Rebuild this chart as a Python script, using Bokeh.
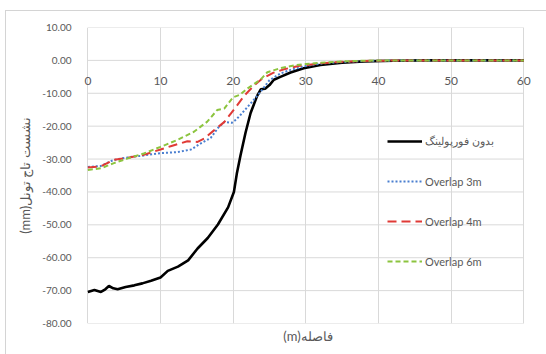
from bokeh.plotting import figure
from bokeh.models import (Legend, LegendItem, FixedTicker, NumeralTickFormatter, Title, InlineStyleSheet)
from bokeh.embed import file_html
from bokeh.resources import INLINE

# ---- data ----
x_black = [0, 0.9, 1.8, 2.4, 2.9, 3.5, 4.1, 5.2, 6.4, 7.5, 8.7, 10, 11, 12.4, 13.8, 15.1, 16.5, 17.9, 19.3, 20.1, 20.5, 21.0, 21.7, 22.4, 23.3, 23.8, 24.4, 25.0, 25.6, 26.5, 27.9, 29.7, 32, 35, 38, 42, 46, 50, 55, 60]
y_black = [-70.4, -69.8, -70.4, -69.6, -68.6, -69.3, -69.6, -68.9, -68.4, -67.8, -67.0, -66.0, -64.0, -62.7, -60.8, -57.2, -54.0, -49.9, -44.7, -40.0, -34.5, -29.0, -22.0, -16.0, -10.8, -8.8, -8.6, -7.5, -5.9, -5.0, -3.7, -2.4, -1.4, -0.7, -0.3, -0.1, 0, 0, 0, 0]

x_3m = [0, 1.8, 3.2, 4.1, 5.5, 7.7, 10, 12.3, 14.2, 15.5, 16.9, 18, 18.8, 19.8, 20.4, 21, 22.4, 23.8, 25, 26.5, 28, 30, 32, 35, 38, 42, 46, 50, 55, 60]
y_3m = [-32.4, -32.1, -30.6, -30.0, -29.5, -28.9, -28.2, -27.9, -27.1, -25.3, -23.6, -20.3, -18.7, -19.0, -18.0, -16.6, -13.1, -9.5, -6.0, -4.0, -2.8, -1.7, -1.0, -0.5, -0.2, -0.05, 0, 0, 0, 0]

x_4m = [0, 1.8, 3.6, 5.5, 7.7, 10, 11.4, 13.7, 15.1, 16, 17.4, 18.8, 19.7, 20.4, 21.5, 22.8, 24, 25.5, 27, 29, 32, 35, 38, 42, 46, 50, 55, 60]
y_4m = [-32.6, -32.2, -30.2, -29.6, -28.7, -27.1, -26.1, -24.6, -24.8, -23.8, -21.2, -18.7, -16.1, -14.1, -10.8, -7.8, -5.5, -3.8, -2.7, -1.7, -0.9, -0.4, -0.15, -0.05, 0, 0, 0, 0]

x_6m = [0, 1.8, 3.5, 5.5, 7.7, 10, 12.3, 14.6, 16.4, 17.8, 18.8, 20, 20.9, 22, 23.8, 24.7, 26.6, 28.5, 30, 32, 35, 38, 42, 46, 50, 55, 60]
y_6m = [-33.3, -32.8, -31.3, -29.8, -28.3, -26.3, -24.2, -21.7, -18.7, -15.1, -14.6, -11.2, -10.5, -8.5, -5.8, -3.6, -2.3, -1.5, -1.1, -0.7, -0.3, -0.1, 0, 0, 0, 0, 0]

x_ticks = [0, 10, 20, 30, 40, 50, 60]
y_ticks = [10, 0, -10, -20, -30, -40, -50, -60, -70, -80]

series_names = ["بدون فورپولینگ", "Overlap 3m", "Overlap 4m", "Overlap 6m"]
x_title = "(m)فاصله"
y_title = "(mm)نشست تاج تونل"

FONT = "Lato"
TXT = "#595959"
GRID = "#d9d9d9"

# small padding on the x range so the end tick labels (0 and 60) are not clipped
p = figure(width=546, height=354, x_range=(-0.6, 61.2), y_range=(-80, 10),
           output_backend="svg", toolbar_location=None,
           min_border_left=83, min_border_top=27, min_border_right=14, min_border_bottom=31)
p.outline_line_color = None
p.background_fill_color = "white"
p.border_fill_color = "white"
# thin chart-area border (top and left edges visible in the reference)
p.stylesheets = [InlineStyleSheet(css=(
    ":host { position: relative; }\n"
    ":host::after { content: ''; position: absolute; left: 5px; top: 10px; right: -20px; bottom: -20px; "
    "border-left: 1px solid #d4d4d4; border-top: 1px solid #d4d4d4; pointer-events: none; z-index: 10; }"))]

# y axis
p.yaxis.ticker = FixedTicker(ticks=y_ticks)
p.yaxis.formatter = NumeralTickFormatter(format="0.00")
p.yaxis.axis_line_color = None
p.yaxis.major_tick_line_color = None
p.yaxis.minor_tick_line_color = None
p.yaxis.major_label_text_color = TXT
p.yaxis.major_label_text_font = FONT
p.yaxis.major_label_text_font_size = "10px"
p.yaxis.major_label_standoff = 6
p.yaxis.axis_label = y_title
p.yaxis.axis_label_text_font = FONT
p.yaxis.axis_label_text_font_style = "normal"
p.yaxis.axis_label_text_font_size = "13px"
p.yaxis.axis_label_text_color = TXT
p.yaxis.axis_label_standoff = 6

# x axis drawn along y = 0 (labels below the zero line)
p.xaxis.ticker = FixedTicker(ticks=x_ticks)
p.xaxis.fixed_location = 0
p.xaxis.axis_line_color = None
p.xaxis.major_tick_line_color = None
p.xaxis.minor_tick_line_color = None
p.xaxis.major_label_text_color = TXT
p.xaxis.major_label_text_font = FONT
p.xaxis.major_label_text_font_size = "12px"
p.xaxis.major_label_standoff = 11
p.xgrid.grid_line_color = GRID
p.ygrid.grid_line_color = None

# horizontal grid lines limited to the 0..60 span
p.segment(x0=[x_ticks[0]] * len(y_ticks), x1=[x_ticks[-1]] * len(y_ticks),
          y0=y_ticks, y1=y_ticks, line_color=GRID, line_width=1, level="underlay")

p.add_layout(Title(text=x_title, align="center", text_font=FONT, text_font_style="normal",
                   text_font_size="13px", text_color=TXT, standoff=4, offset=-4), "below")

r_b = p.line(x_black, y_black, line_color="black", line_width=2.6)
r_3 = p.line(x_3m, y_3m, line_color="#4A7FD0", line_width=2, line_dash="2 2")
r_4 = p.line(x_4m, y_4m, line_color="#E03A36", line_width=2, line_dash="9 5")
r_6 = p.line(x_6m, y_6m, line_color="#8CC43F", line_width=2, line_dash="5 3")

legend = Legend(items=[LegendItem(label=series_names[0], renderers=[r_b]),
                       LegendItem(label=series_names[1], renderers=[r_3]),
                       LegendItem(label=series_names[2], renderers=[r_4]),
                       LegendItem(label=series_names[3], renderers=[r_6])],
                location=(304, 52))
legend.padding = 0
legend.margin = 0
legend.spacing = 20
legend.glyph_width = 35
legend.glyph_height = 20
legend.label_height = 20
legend.label_standoff = 3
legend.label_text_font = FONT
legend.label_text_font_size = "11px"
legend.label_text_color = TXT
legend.background_fill_alpha = 0
legend.border_line_alpha = 0
p.add_layout(legend)

open("out.html", "w").write(file_html(p, INLINE))
